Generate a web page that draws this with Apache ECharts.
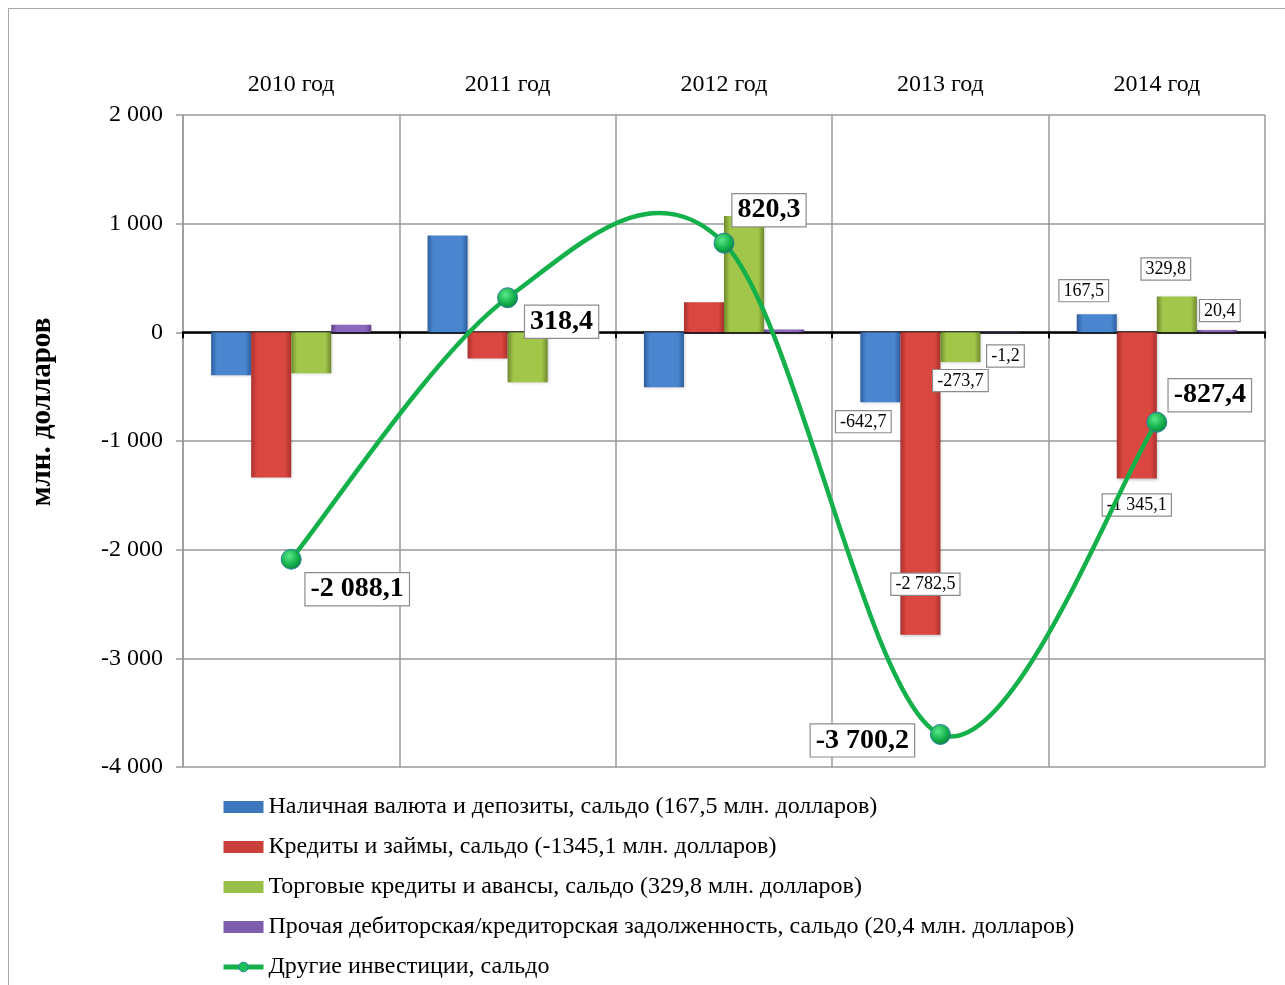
<!DOCTYPE html>
<html>
<head>
<meta charset="utf-8">
<script src="https://cdn.jsdelivr.net/npm/echarts@6/dist/echarts.min.js"></script>
<style>
html,body{margin:0;padding:0;background:#fff;}
#frame{position:absolute;left:8px;top:8px;width:1300px;height:1000px;border:1.5px solid #a8a8a8;box-sizing:border-box;}
#chart{position:absolute;left:0;top:0;width:1285px;height:985px;}
</style>
</head>
<body>
<div id="frame"></div>
<div id="chart"></div>
<script>
// ---- data ----
const categories = ['2010 год', '2011 год', '2012 год', '2013 год', '2014 год'];
const cashDeposits = [-395, 890, -505, -642.7, 167.5];
const loans = [-1335, -240, 276, -2782.5, -1345.1];
const tradeCredits = [-377, -460, 1070, -273.7, 329.8];
const otherDebts = [70, -4, 25, -1.2, 20.4];
const otherInvestments = [-2088.1, 318.4, 820.3, -3700.2, -827.4];
const seriesNames = [
  'Наличная валюта и депозиты, сальдо (167,5 млн. долларов)',
  'Кредиты и займы, сальдо (-1345,1 млн. долларов)',
  'Торговые кредиты и авансы, сальдо (329,8 млн. долларов)',
  'Прочая дебиторская/кредиторская задолженность, сальдо (20,4 млн. долларов)',
  'Другие инвестиции, сальдо'
];
const yTicks = { min: -4000, max: 2000, interval: 1000 };
const yAxisName = 'млн. долларов';
// which bar points carry a data label (only 2013 and 2014)
const labelledIdx = [3, 4];

// ---- label placement (style) ----
const barLabelOffsets = [
  {3: [-17, 4], 4: [-13, -8]},
  {3: [5, -66], 4: [0, 11]},
  {3: [0, 3], 4: [-11, -12]},
  {3: [5, 8], 4: [3, -4]}
];
const lineLabelOffsets = [[66, 30], [54, 24], [45, -33], [-78, 6], [53, -27]];

const FONT = '"Liberation Serif", "Times New Roman", serif';
const GREEN = '#14B04A';

function fmt(v) {
  const neg = v < 0;
  let s = Math.abs(v).toFixed(1);
  let [i, d] = s.split('.');
  i = i.replace(/\B(?=(\d{3})+(?!\d))/g, ' ');
  return (neg ? '-' : '') + i + ',' + d;
}
function fmtTick(v) {
  const neg = v < 0;
  let i = String(Math.abs(v)).replace(/\B(?=(\d{3})+(?!\d))/g, ' ');
  return (neg ? '-' : '') + i;
}

function grad(light, dark) {
  return new echarts.graphic.LinearGradient(0, 0, 1, 0, [
    {offset: 0, color: dark},
    {offset: 0.15, color: light},
    {offset: 0.85, color: light},
    {offset: 1, color: dark}
  ]);
}
const barColors = [
  ['#4A86D0', '#2F5E9E'],
  ['#DA4640', '#A8312D'],
  ['#A2C64A', '#6E8A2E'],
  ['#8C68BE', '#5E4287']
];
const legendColors = ['#3F77BF', '#C9403B', '#9ABF48', '#7D5DAE'];

const barSeriesData = [cashDeposits, loans, tradeCredits, otherDebts];

function barSeries(k) {
  return {
    name: seriesNames[k],
    type: 'bar',
    xAxisIndex: 0,
    z: 2,
    barGap: '0%',
    barCategoryGap: '26%',
    itemStyle: { color: grad(barColors[k][0], barColors[k][1]), shadowColor: 'rgba(0,0,0,0.25)', shadowBlur: 3, shadowOffsetX: 1, shadowOffsetY: 1 },
    data: barSeriesData[k].map((v, i) => {
      const item = { value: v };
      if (labelledIdx.indexOf(i) >= 0) {
        item.label = {
          show: true,
          position: 'outside',
          offset: barLabelOffsets[k][i],
          formatter: () => fmt(v),
          fontFamily: FONT, fontSize: 18, color: '#000',
          backgroundColor: '#fff', borderColor: '#8c8c8c', borderWidth: 1.2,
          padding: [2, 4, 1, 4]
        };
      }
      return item;
    })
  };
}

const series = [0, 1, 2, 3].map(barSeries);

// smooth curve through the "other investments" points (Catmull-Rom via library coords)
series.push({
  name: 'curve',
  type: 'custom',
  xAxisIndex: 0,
  z: 3,
  silent: true,
  clip: false,
  data: otherInvestments.map((v, i) => [i, v]),
  renderItem: function (params, api) {
    const n = otherInvestments.length;
    const i = params.dataIndex;
    if (i >= n - 1) return null;
    const P = j => { const k = Math.max(0, Math.min(n - 1, j)); return api.coord([k, otherInvestments[k]]); };
    const p0 = P(i - 1), p1 = P(i), p2 = P(i + 1), p3 = P(i + 2);
    return {
      type: 'bezierCurve',
      shape: {
        x1: p1[0], y1: p1[1], x2: p2[0], y2: p2[1],
        cpx1: p1[0] + (p2[0] - p0[0]) / 6, cpy1: p1[1] + (p2[1] - p0[1]) / 6,
        cpx2: p2[0] - (p3[0] - p1[0]) / 6, cpy2: p2[1] - (p3[1] - p1[1]) / 6
      },
      style: { stroke: GREEN, lineWidth: 4.5, fill: null, lineCap: 'round' }
    };
  }
});

series.push({
  name: seriesNames[4],
  type: 'line',
  xAxisIndex: 0,
  z: 5,
  symbol: 'circle',
  symbolSize: 20,
  lineStyle: { color: GREEN, width: 0, opacity: 0 },
  itemStyle: {
    color: new echarts.graphic.RadialGradient(0.4, 0.35, 0.7, [
      {offset: 0, color: '#5BE88C'},
      {offset: 0.6, color: '#14B04A'},
      {offset: 1, color: '#0B7F3E'}
    ]),
    borderColor: '#2B7F9E', borderWidth: 1
  },
  data: otherInvestments.map((v, i) => ({
    value: v,
    label: {
      show: true,
      position: 'inside',
      offset: lineLabelOffsets[i],
      formatter: () => fmt(v),
      fontFamily: FONT, fontSize: 28, fontWeight: 'bold', color: '#000',
      backgroundColor: '#fff', borderColor: '#8c8c8c', borderWidth: 1.2,
      padding: [3, 5, 1, 5]
    }
  }))
});

const chart = echarts.init(document.getElementById('chart'));
chart.setOption({
  animation: false,
  backgroundColor: 'transparent',
  grid: { left: 183, right: 20, top: 115, bottom: 218, containLabel: false },
  legend: {
    orient: 'vertical',
    left: 216,
    top: 790,
    itemWidth: 40,
    itemHeight: 12,
    itemGap: 16,
    textStyle: { fontFamily: FONT, fontSize: 24, color: '#000', lineHeight: 24 },
    data: seriesNames.map((n, k) => k < 4
      ? { name: n, icon: 'rect', itemStyle: { color: legendColors[k] } }
      : { name: n, lineStyle: { color: GREEN, width: 5, opacity: 1 }, itemStyle: { color: '#1FBF5A', borderColor: '#2B7F9E', borderWidth: 1 } })
  },
  xAxis: [
    {
      type: 'category',
      data: categories,
      position: 'top',
      axisLine: { show: false, onZero: false },
      axisTick: { show: false },
      axisLabel: { fontFamily: FONT, fontSize: 24, color: '#000', margin: 18 },
      splitLine: { show: true, lineStyle: { color: '#9a9a9a', width: 1.5 } }
    },
    {
      type: 'category',
      data: categories,
      position: 'bottom',
      axisLine: { show: true, onZero: true, lineStyle: { color: '#000', width: 2.5 } },
      axisTick: { show: true, length: 6, lineStyle: { color: '#000', width: 2 } },
      axisLabel: { show: false },
      splitLine: { show: false }
    }
  ],
  yAxis: {
    type: 'value',
    min: yTicks.min, max: yTicks.max, interval: yTicks.interval,
    name: yAxisName,
    nameLocation: 'middle',
    nameRotate: 90,
    nameGap: 126,
    nameTextStyle: { fontFamily: FONT, fontSize: 29, fontWeight: 'bold', color: '#000', padding: [0, 0, 0, 58] },
    axisLine: { show: true, lineStyle: { color: '#9a9a9a', width: 1.5 } },
    axisTick: { show: true, length: 7, lineStyle: { color: '#9a9a9a', width: 1.5 } },
    axisLabel: { fontFamily: FONT, fontSize: 24, color: '#000', margin: 20, formatter: fmtTick },
    splitLine: { show: true, lineStyle: { color: '#9a9a9a', width: 1.5 } }
  },
  series: series
});
</script>
</body>
</html>
